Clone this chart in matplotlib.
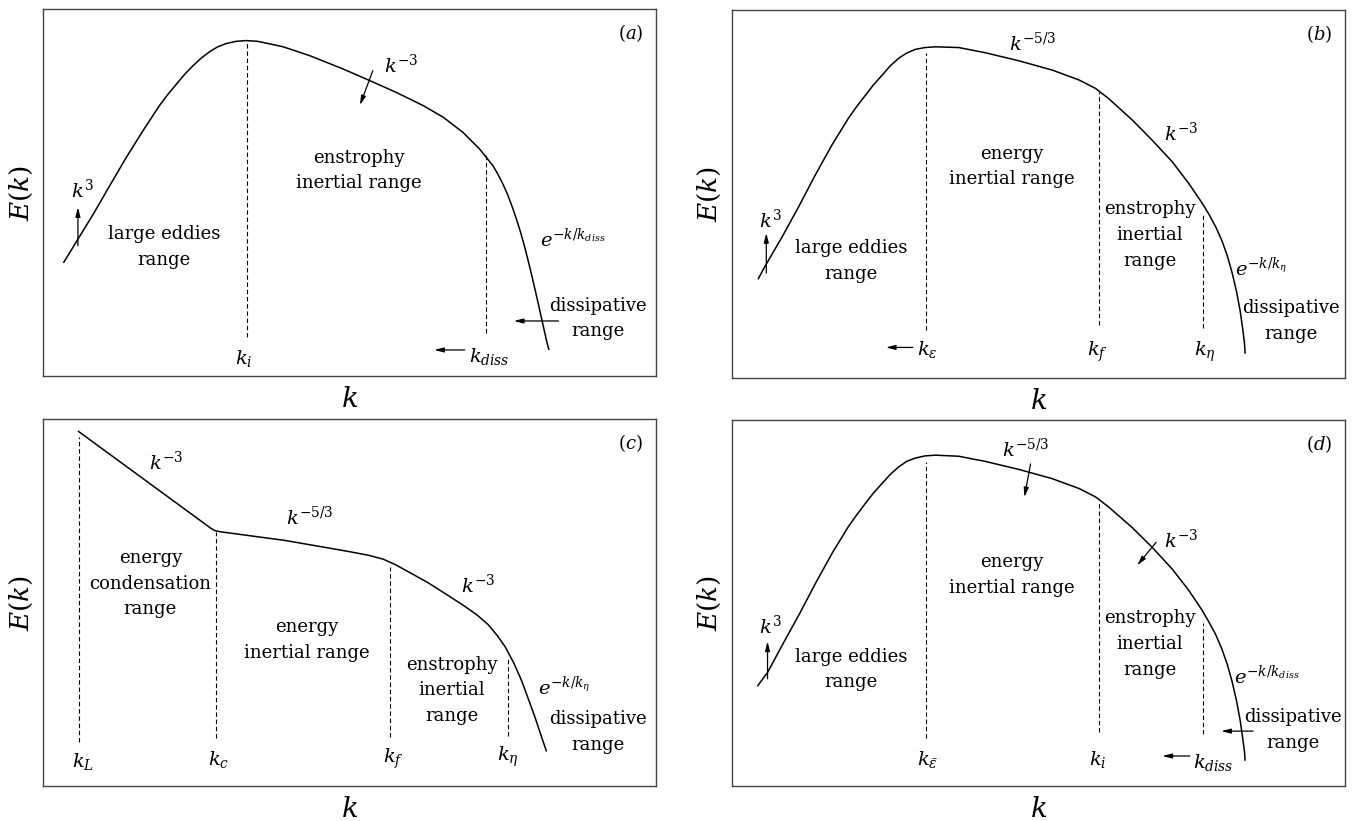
import matplotlib
matplotlib.use("Agg")
import matplotlib.pyplot as plt

plt.rcParams['font.family'] = ['DejaVu Serif']
plt.rcParams['mathtext.fontset'] = 'dejavuserif'

# all values on a 0-100 scale across each box (k to the right, E(k) up)

# (a) k^3 rise, peak at k_i, k^-3 fall, exponential cut-off
a_k = [3.4, 5.7, 8.2, 10.9, 13.6, 16.3, 19.0, 20.4, 21.8, 23.1, 24.5, 25.8,
       27.2, 28.5, 29.9, 31.5, 33.2, 35.0, 37.0, 39.2, 43.5, 48.9, 53.3, 57.6,
       62.0, 65.3, 68.5, 71.2, 73.4, 74.2, 75.0, 75.8, 76.5, 77.2, 77.9, 78.5,
       79.1, 79.7, 80.3, 80.9, 81.5, 82.1, 82.5]
a_E = [31.0, 37.3, 44.1, 51.9, 59.6, 66.8, 73.7, 76.8, 79.6, 82.2, 84.6, 86.6,
       88.4, 89.7, 90.6, 91.2, 91.4, 91.2, 90.5, 89.7, 87.3, 83.7, 80.5, 77.3,
       73.7, 70.5, 66.4, 61.9, 57.3, 55.0, 52.4, 49.4, 46.3, 42.9, 39.2, 35.6,
       31.7, 27.6, 23.3, 18.9, 14.4, 9.9, 7.3]
a_marks = [33.3, 72.3]
a_marks_top = [90.7, 60.6]
a_marks_bot = [10.7, 11.8]

# (b) k^3, k^-5/3, k^-3, exponential
b_k = [4.3, 5.2, 8.2, 10.9, 13.6, 16.3, 19.0, 20.4, 21.8, 23.1, 24.5, 25.8,
       27.2, 28.5, 29.9, 31.5, 33.2, 37.0, 41.3, 46.8, 52.2, 56.6, 59.3, 61.4,
       65.3, 68.5, 71.8, 74.5, 76.7, 77.8, 78.9, 79.9, 80.8, 81.6, 82.3, 82.9,
       83.3, 83.6, 83.7]
b_E = [27.0, 29.8, 38.4, 46.6, 55.2, 63.3, 70.6, 73.9, 76.9, 79.7, 82.3, 84.8,
       86.9, 88.3, 89.3, 89.8, 90.0, 89.8, 88.4, 86.2, 83.7, 81.0, 78.7, 76.0,
       70.1, 64.7, 58.8, 52.9, 47.5, 44.5, 41.1, 37.4, 33.2, 28.5, 23.5, 18.2,
       13.5, 9.5, 6.8]
b_marks = [31.6, 59.8, 76.9]
b_marks_top = [88.2, 77.8, 44.7]
b_marks_bot = [13.1, 14.5, 13.6]

# (c) condensate: k^-3, k^-5/3, k^-3, exponential
c_k = [5.8, 27.4, 28.0, 28.8, 39.5, 49.5, 53.0, 55.5, 57.5, 60.0, 62.8, 66.0,
       68.5, 70.8, 72.6, 74.1, 75.4, 76.8, 78.0, 79.0, 80.2, 81.2, 82.1]
c_E = [96.6, 70.2, 69.6, 69.3, 66.9, 64.0, 62.9, 61.8, 60.3, 58.0, 55.4, 52.0,
       49.3, 46.6, 44.0, 41.0, 37.9, 33.5, 29.0, 24.5, 19.0, 14.0, 9.6]
c_marks = [5.9, 28.3, 56.6, 75.8]
c_marks_top = [95.0, 69.2, 59.7, 34.7]
c_marks_bot = [12.1, 13.0, 13.4, 13.6]

# (d) k^3, k^-5/3, k^-3, exponential
d_k = [4.2, 5.8, 8.3, 11.0, 13.6, 16.3, 19.0, 20.4, 21.8, 23.1, 24.5, 25.8,
       27.2, 28.5, 29.9, 31.5, 33.2, 37.0, 41.3, 46.8, 52.2, 56.6, 59.3, 61.4,
       65.3, 68.5, 71.8, 74.5, 76.7, 77.8, 78.9, 79.9, 80.8, 81.6, 82.3, 82.9,
       83.3, 83.6, 83.7]
d_E = [27.4, 31.0, 38.8, 47.0, 55.3, 63.5, 70.9, 74.2, 77.3, 80.1, 82.7, 85.1,
       87.2, 88.7, 89.6, 90.2, 90.4, 90.1, 88.7, 86.5, 84.0, 81.3, 79.0, 76.3,
       70.6, 65.3, 59.3, 53.5, 48.0, 44.8, 41.4, 37.5, 33.2, 28.4, 23.3, 17.9,
       13.2, 9.4, 7.1]
d_marks = [31.7, 59.8, 76.9]
d_marks_top = [88.4, 77.3, 44.5]
d_marks_bot = [13.2, 14.7, 14.1]

panels = {
    'a': dict(k=a_k, E=a_E, marks=a_marks, top=a_marks_top, bot=a_marks_bot,
              texts=[(6.5, 50.6, r'$k^3$', 'math'),
                     (19.8, 35.2, 'large eddies\nrange', 'word'),
                     (51.5, 56.0, 'enstrophy\ninertial range', 'word'),
                     (58.5, 84.6, r'$k^{-3}$', 'math'),
                     (86.5, 37.4, r'$e^{-k/k_{diss}}$', 'math'),
                     (90.5, 15.7, 'dissipative\nrange', 'word'),
                     (72.8, 5.4, r'$k_{diss}$', 'math'),
                     (32.8, 4.8, r'$k_i$', 'math')],
              arrows=[(5.7, 35.5, 5.7, 46.0), (53.8, 83.2, 51.7, 73.8),
                      (84.1, 15.0, 76.8, 15.0), (68.8, 7.1, 63.8, 7.1)]),
    'b': dict(k=b_k, E=b_E, marks=b_marks, top=b_marks_top, bot=b_marks_bot,
              texts=[(6.3, 43.0, r'$k^3$', 'math'),
                     (19.4, 31.7, 'large eddies\nrange', 'word'),
                     (45.6, 57.5, 'energy\ninertial range', 'word'),
                     (49.0, 90.9, r'$k^{-5/3}$', 'math'),
                     (73.3, 66.5, r'$k^{-3}$', 'math'),
                     (68.1, 38.9, 'enstrophy\ninertial\nrange', 'word'),
                     (86.3, 29.9, r'$e^{-k/k_\eta}$', 'math'),
                     (91.1, 15.4, 'dissipative\nrange', 'word'),
                     (31.9, 7.7, r'$k_\varepsilon$', 'math'),
                     (59.6, 7.2, r'$k_f$', 'math'),
                     (77.1, 7.2, r'$k_\eta$', 'math')],
              arrows=[(5.6, 28.5, 5.6, 39.4), (29.5, 8.3, 25.1, 8.3)]),
    'c': dict(k=c_k, E=c_E, marks=c_marks, top=c_marks_top, bot=c_marks_bot,
              texts=[(20.1, 88.2, r'$k^{-3}$', 'math'),
                     (43.5, 73.3, r'$k^{-5/3}$', 'math'),
                     (70.9, 54.7, r'$k^{-3}$', 'math'),
                     (17.5, 55.1, 'energy\ncondensation\nrange', 'word'),
                     (43.1, 39.7, 'energy\ninertial range', 'word'),
                     (66.7, 26.1, 'enstrophy\ninertial\nrange', 'word'),
                     (85.0, 27.0, r'$e^{-k/k_\eta}$', 'math'),
                     (90.5, 14.8, 'dissipative\nrange', 'word'),
                     (6.5, 6.6, r'$k_L$', 'math'),
                     (28.6, 7.1, r'$k_c$', 'math'),
                     (57.1, 7.5, r'$k_f$', 'math'),
                     (75.8, 8.0, r'$k_\eta$', 'math')],
              arrows=[]),
    'd': dict(k=d_k, E=d_E, marks=d_marks, top=d_marks_top, bot=d_marks_bot,
              texts=[(6.3, 43.6, r'$k^3$', 'math'),
                     (19.4, 31.8, 'large eddies\nrange', 'word'),
                     (45.6, 57.6, 'energy\ninertial range', 'word'),
                     (48.0, 92.1, r'$k^{-5/3}$', 'math'),
                     (73.3, 67.2, r'$k^{-3}$', 'math'),
                     (68.1, 38.8, 'enstrophy\ninertial\nrange', 'word'),
                     (87.3, 29.9, r'$e^{-k/k_{diss}}$', 'math'),
                     (91.5, 15.4, 'dissipative\nrange', 'word'),
                     (31.9, 7.3, r'$k_{\bar{\varepsilon}}$', 'math'),
                     (59.6, 7.3, r'$k_i$', 'math'),
                     (78.5, 6.4, r'$k_{diss}$', 'math')],
              arrows=[(5.8, 29.3, 5.8, 39.5), (48.7, 88.0, 47.7, 78.9),
                      (69.2, 66.6, 66.1, 60.3), (85.0, 15.0, 79.8, 15.0),
                      (74.7, 8.2, 70.2, 8.2)]),
}

# box positions in figure fractions [left, bottom, width, height]
boxes = {'a': [0.0317, 0.542, 0.4521, 0.447],
         'b': [0.5398, 0.5396, 0.4521, 0.4482],
         'c': [0.0317, 0.0426, 0.4521, 0.4471],
         'd': [0.5398, 0.0426, 0.4521, 0.4458]}

fig = plt.figure(figsize=(13.56, 8.21), dpi=100)

for name, p in panels.items():
    ax = fig.add_axes(boxes[name])
    ax.set_xlim(0, 100)
    ax.set_ylim(0, 100)
    ax.set_xticks([])
    ax.set_yticks([])
    for s in ax.spines.values():
        s.set_color('#444444')
        s.set_linewidth(1.0)

    ax.plot(p['k'], p['E'], color='k', lw=1.1, solid_joinstyle='round')
    ax.vlines(p['marks'], p['bot'], p['top'], colors='k', lw=0.8,
              linestyles=(0, (4, 2.5)))

    for x, y, s, kind in p['texts']:
        fs = 14 if kind == 'math' else 13
        ax.text(x, y, s, ha='center', va='center', fontsize=fs,
                linespacing=1.55)
    for x0, y0, x1, y1 in p['arrows']:
        ax.annotate('', xy=(x1, y1), xytext=(x0, y0),
                    arrowprops=dict(arrowstyle='-|>,head_length=0.55,head_width=0.14',
                                    color='k', lw=0.9, shrinkA=0, shrinkB=0))

    ax.text(95.8, 93.5, '$(%s)$' % name, ha='center', va='center', fontsize=13)
    ax.text(50, -6.5, '$k$', ha='center', va='center', fontsize=20,
            clip_on=False)
    ax.text(-3.6, 50, '$E(k)$', ha='center', va='center', fontsize=19,
            rotation=90, clip_on=False)

fig.savefig('out.png', dpi=100)
